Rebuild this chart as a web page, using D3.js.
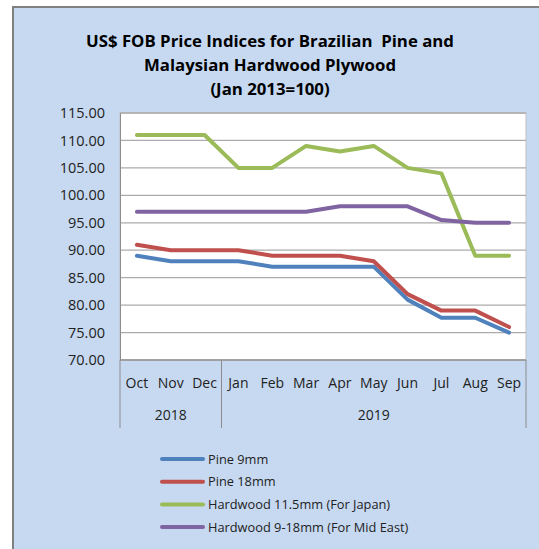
<!DOCTYPE html>
<html>
<head>
<meta charset="utf-8">
<script src="https://cdn.jsdelivr.net/npm/d3@7"></script>
<style>
  body { margin: 0; background: #fff; }
  svg { display: block; font-family: "Open Sans", "Noto Sans", sans-serif; }
</style>
</head>
<body>
<svg width="539" height="549"></svg>
<script>
// data
var months = ['Oct', 'Nov', 'Dec', 'Jan', 'Feb', 'Mar', 'Apr', 'May', 'Jun', 'Jul', 'Aug', 'Sep'];
var years = [
	{ label: '2018', from: 0, to: 3 },
	{ label: '2019', from: 3, to: 12 }
];
var pine9 = [89, 88, 88, 88, 87, 87, 87, 87, 81, 77.7, 77.7, 75];
var pine18 = [91, 90, 90, 90, 89, 89, 89, 88, 82, 79, 79, 76];
var hard115 = [111, 111, 111, 105, 105, 109, 108, 109, 105, 104, 89, 89];
var hard918 = [97, 97, 97, 97, 97, 97, 98, 98, 98, 95.5, 95, 95];
var yTicks = [70, 75, 80, 85, 90, 95, 100, 105, 110, 115];

var series = [
	{ name: 'Pine 9mm', values: pine9, color: '#4f81bd' },
	{ name: 'Pine 18mm', values: pine18, color: '#c0504d' },
	{ name: 'Hardwood 11.5mm (For Japan)', values: hard115, color: '#9bbb59' },
	{ name: 'Hardwood 9-18mm (For Mid East)', values: hard918, color: '#8064a2' }
];

var svg = d3.select('svg'),
	width = +svg.attr('width'),
	height = +svg.attr('height');

// chart frame
svg.append('rect')
	.attr('x', 13).attr('y', 7)
	.attr('width', width).attr('height', height)
	.attr('fill', '#c6d9f1')
	.attr('stroke', '#808080')
	.attr('stroke-width', 2);

// title
var title = ['US$ FOB Price Indices for Brazilian  Pine and', 'Malaysian Hardwood Plywood', '(Jan 2013=100)'];
svg.append('g').selectAll('text')
	.data(title)
	.enter().append('text')
	.attr('x', 270)
	.attr('y', function(d, i) { return 47 + i * 24; })
	.attr('text-anchor', 'middle')
	.attr('font-size', 16.8)
	.attr('font-weight', 'bold')
	.attr('fill', '#000')
	.style('white-space', 'pre')
	.text(function(d) { return d; });

var plot = { left: 120, top: 113, right: 526, bottom: 360 };

var x = d3.scaleBand()
	.domain(d3.range(months.length))
	.range([plot.left, plot.right]);

var y = d3.scaleLinear()
	.domain([70, 115])
	.range([plot.bottom, plot.top]);

// plot area
svg.append('rect')
	.attr('x', plot.left).attr('y', plot.top)
	.attr('width', plot.right - plot.left)
	.attr('height', plot.bottom - plot.top)
	.attr('fill', '#fff')
	.attr('stroke', '#bfbfbf')
	.attr('stroke-width', 1);

// gridlines
svg.append('g').selectAll('line')
	.data(yTicks)
	.enter().append('line')
	.attr('x1', plot.left).attr('x2', plot.right)
	.attr('y1', function(d) { return y(d); })
	.attr('y2', function(d) { return y(d); })
	.attr('stroke', '#ababab')
	.attr('stroke-width', 1.3);

// y axis
var yAxis = svg.append('g')
	.attr('transform', 'translate(' + plot.left + ',0)')
	.call(d3.axisLeft(y).tickValues(yTicks).tickSize(0).tickPadding(15)
		.tickFormat(d3.format('.2f')));
yAxis.select('.domain').attr('stroke', '#8c8c8c');
yAxis.selectAll('text')
	.attr('font-size', 14.5)
	.attr('font-family', '"Open Sans", sans-serif')
	.attr('fill', '#222');

// x axis, two levels
svg.append('line')
	.attr('x1', plot.left).attr('x2', plot.right)
	.attr('y1', plot.bottom).attr('y2', plot.bottom)
	.attr('stroke', '#8c8c8c');

svg.append('g').selectAll('text')
	.data(months)
	.enter().append('text')
	.attr('x', function(d, i) { return x(i) + x.bandwidth() / 2; })
	.attr('y', 388)
	.attr('text-anchor', 'middle')
	.attr('font-size', 14)
	.attr('fill', '#222')
	.text(function(d) { return d; });

var seps = [0, 3, 12];
svg.append('g').selectAll('line')
	.data(seps)
	.enter().append('line')
	.attr('x1', function(d) { return d < months.length ? x(d) : plot.right; })
	.attr('x2', function(d) { return d < months.length ? x(d) : plot.right; })
	.attr('y1', plot.bottom).attr('y2', 428)
	.attr('stroke', '#8c8c8c');

svg.append('g').selectAll('text')
	.data(years)
	.enter().append('text')
	.attr('x', function(d) {
		var a = x(d.from), b = d.to < months.length ? x(d.to) : plot.right;
		return (a + b) / 2;
	})
	.attr('y', 420)
	.attr('text-anchor', 'middle')
	.attr('font-size', 14)
	.attr('fill', '#222')
	.text(function(d) { return d.label; });

// lines
var line = d3.line()
	.x(function(d, i) { return x(i) + x.bandwidth() / 2; })
	.y(function(d) { return y(d); });

svg.append('g').selectAll('path')
	.data(series)
	.enter().append('path')
	.attr('d', function(d) { return line(d.values); })
	.attr('fill', 'none')
	.attr('stroke', function(d) { return d.color; })
	.attr('stroke-width', 4)
	.attr('stroke-linejoin', 'round')
	.attr('stroke-linecap', 'round');

// legend
var legend = svg.append('g').selectAll('g')
	.data(series)
	.enter().append('g')
	.attr('transform', function(d, i) { return 'translate(162,' + (459 + i * 22.7) + ')'; });

legend.append('line')
	.attr('x1', 0).attr('x2', 41)
	.attr('stroke', function(d) { return d.color; })
	.attr('stroke-width', 4)
	.attr('stroke-linecap', 'round');

legend.append('text')
	.attr('x', 46)
	.attr('y', 4.5)
	.attr('font-size', 12.8)
	.attr('fill', '#222')
	.text(function(d) { return d.name; });
</script>
</body>
</html>
